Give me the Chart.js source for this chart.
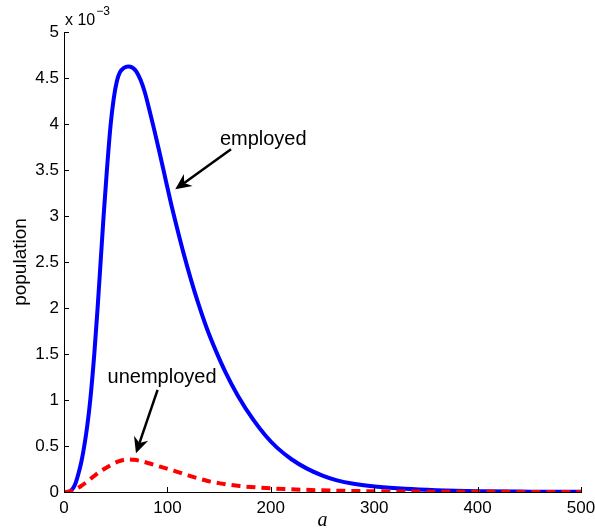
<!DOCTYPE html>
<html>
<head>
<meta charset="utf-8">
<script src="https://cdn.jsdelivr.net/npm/chart.js@4.4.1/dist/chart.umd.min.js"></script>
<style>
  html, body { margin: 0; padding: 0; background: #ffffff; }
  #wrap { width: 595px; height: 531px; position: relative; }
</style>
</head>
<body>
<div id="wrap"><canvas id="c"></canvas></div>
<script>
// ---- data (values in units of 10^-3) ----
const employedAges = [0, 4, 8, 11, 14, 17, 19.6, 22.5, 25.4, 29.3, 32.5, 35.4, 38.3, 41.5, 45, 48, 51, 54, 58, 62, 66, 70, 74, 78, 82, 87, 92, 97, 103, 110, 116, 123, 129, 138, 147, 156, 168, 183, 195, 206, 220, 235, 250, 264, 280, 303, 330, 360, 400, 450, 500];
const employedValues = [0, 0, 0.03, 0.09, 0.2, 0.34, 0.5, 0.72, 1.0, 1.5, 2.0, 2.5, 3.0, 3.5, 3.98, 4.27, 4.46, 4.56, 4.61, 4.625, 4.615, 4.57, 4.48, 4.35, 4.18, 3.95, 3.71, 3.46, 3.16, 2.84, 2.58, 2.3, 2.08, 1.783, 1.531, 1.306, 1.05, 0.786, 0.612, 0.482, 0.356, 0.254, 0.179, 0.127, 0.09, 0.058, 0.035, 0.02, 0.009, 0.004, 0.002];
const unemployedAges = [0, 5, 10, 15.8, 22, 28.7, 36, 44.8, 52, 61, 68, 74, 83, 93, 106, 120, 138, 151, 170, 200, 230, 260, 300, 350, 400, 450, 500];
const unemployedValues = [0, 0.005, 0.025, 0.06, 0.11, 0.17, 0.23, 0.29, 0.33, 0.355, 0.35, 0.337, 0.31, 0.275, 0.232, 0.18, 0.123, 0.094, 0.065, 0.04, 0.025, 0.015, 0.008, 0.004, 0.002, 0.001, 0.0005];
const xTicks = [0, 100, 200, 300, 400, 500];
const yTicks = [0, 0.5, 1, 1.5, 2, 2.5, 3, 3.5, 4, 4.5, 5];
const yExponent = '-3';
const seriesNames = ['employed', 'unemployed'];
const xTitle = 'a';
const yTitle = 'population';

// annotation anchors in data coordinates
const annotations = [
  { text: 'employed', tx: 192.7, ty: 3.83, x0: 161.5, y0: 3.725, x1: 107.6, y1: 3.29 },
  { text: 'unemployed', tx: 94.8, ty: 1.25, x0: 90.5, y0: 1.11, x1: 69.6, y1: 0.42 }
];

const toPts = (xs, ys) => xs.map((x, i) => ({ x: x, y: ys[i] }));
const FONT = "'Liberation Sans', Arial, Helvetica, sans-serif";

const decorPlugin = {
  id: 'decor',
  afterDraw(chart) {
    const ctx = chart.ctx;
    const xs = chart.scales.x, ys = chart.scales.y;
    const ca = chart.chartArea;
    ctx.save();
    // inward ticks
    ctx.strokeStyle = '#000';
    ctx.lineWidth = 1;
    ctx.beginPath();
    yTicks.forEach(v => {
      const py = Math.round(ys.getPixelForValue(v)) + 0.5;
      ctx.moveTo(ca.left, py); ctx.lineTo(ca.left + 5, py);
    });
    xTicks.forEach(v => {
      const px = Math.round(xs.getPixelForValue(v)) + 0.5;
      ctx.moveTo(px, ca.bottom); ctx.lineTo(px, ca.bottom - 5);
    });
    ctx.stroke();
    // exponent label
    ctx.fillStyle = '#000';
    ctx.textBaseline = 'alphabetic';
    ctx.textAlign = 'left';
    ctx.font = '16px ' + FONT;
    const base = 'x 10';
    ctx.fillText(base, ca.left + 1, ca.top - 7);
    const w = ctx.measureText(base).width;
    ctx.font = '12px ' + FONT;
    ctx.fillText(yExponent.replace('-', '\u2212'), ca.left + 1 + w + 1, ca.top - 17);
    // annotations
    annotations.forEach(a => {
      const tx = xs.getPixelForValue(a.tx), ty = ys.getPixelForValue(a.ty);
      ctx.font = '20px ' + FONT;
      ctx.textAlign = 'center';
      ctx.textBaseline = 'middle';
      ctx.fillText(a.text, tx, ty);
      const x0 = xs.getPixelForValue(a.x0), y0 = ys.getPixelForValue(a.y0);
      const x1 = xs.getPixelForValue(a.x1), y1 = ys.getPixelForValue(a.y1);
      const ang = Math.atan2(y1 - y0, x1 - x0);
      const hl = 16, hw = 7.5, notch = 5;
      const c = Math.cos(ang), s = Math.sin(ang);
      const bx = x1 - hl * c, by = y1 - hl * s;
      const nbx = x1 - (hl - notch) * c, nby = y1 - (hl - notch) * s;
      ctx.lineWidth = 2.5;
      ctx.lineCap = 'butt';
      ctx.beginPath();
      ctx.moveTo(x0, y0);
      ctx.lineTo(nbx, nby);
      ctx.stroke();
      const nx = -s, ny = c;
      ctx.beginPath();
      ctx.moveTo(x1, y1);
      ctx.lineTo(bx + nx * hw, by + ny * hw);
      ctx.lineTo(nbx, nby);
      ctx.lineTo(bx - nx * hw, by - ny * hw);
      ctx.closePath();
      ctx.fill();
    });
    ctx.restore();
  }
};

new Chart(document.getElementById('c'), {
  type: 'line',
  data: {
    datasets: [
      {
        label: seriesNames[0],
        data: toPts(employedAges, employedValues),
        borderColor: '#0000ff',
        borderWidth: 4,
        pointRadius: 0,
        fill: false,
        cubicInterpolationMode: 'monotone',
        order: 2
      },
      {
        label: seriesNames[1],
        data: toPts(unemployedAges, unemployedValues),
        borderColor: '#ff0000',
        borderWidth: 4,
        borderDash: [9, 6],
        pointRadius: 0,
        fill: false,
        cubicInterpolationMode: 'monotone',
        order: 1
      }
    ]
  },
  options: {
    responsive: true,
    maintainAspectRatio: false,
    animation: false,
    devicePixelRatio: 1,
    layout: { padding: { left: 0, right: 14, top: 32, bottom: 0 } },
    plugins: { legend: { display: false }, tooltip: { enabled: false } },
    scales: {
      x: {
        type: 'linear',
        min: 0, max: 500,
        afterBuildTicks: s => { s.ticks = xTicks.map(v => ({ value: v })); },
        afterFit: s => { s.height = 39; s.paddingLeft = 0; s.paddingRight = 0; },
        grid: { display: false, drawTicks: false },
        border: { display: true, color: '#000', width: 1 },
        ticks: { color: '#000', font: { family: FONT, size: 17 }, padding: 6, maxRotation: 0, autoSkip: false },
        title: { display: true, text: xTitle, color: '#000', font: { family: "'Liberation Serif', 'Times New Roman', serif", size: 20, style: 'italic', lineHeight: 1 }, padding: { top: 0, bottom: 0 } }
      },
      y: {
        type: 'linear',
        min: 0, max: 5,
        afterBuildTicks: s => { s.ticks = yTicks.map(v => ({ value: v })); },
        afterFit: s => { s.width = 64; s.paddingTop = 0; s.paddingBottom = 0; },
        grid: { display: false, drawTicks: false },
        border: { display: true, color: '#000', width: 1 },
        ticks: { color: '#000', font: { family: FONT, size: 17 }, padding: 5, autoSkip: false, callback: v => String(v) },
        title: { display: true, text: yTitle, color: '#000', font: { family: FONT, size: 19 }, padding: { top: 9, bottom: 0 } }
      }
    }
  },
  plugins: [decorPlugin]
});
</script>
</body>
</html>
